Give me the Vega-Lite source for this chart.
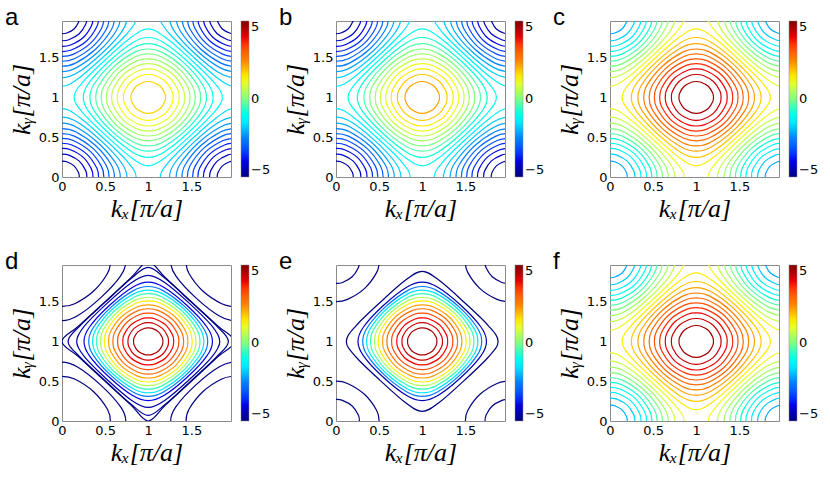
{
"$schema":"https://vega.github.io/schema/vega-lite/v6.json",
"background":"white",
"padding":{"left":4,"top":5,"right":5,"bottom":5},
"datasets":{
"LV":[
{"l":"R1","a":-1.333,"b":-1.071,"c":1.429,"f":1.429},
{"l":"R2","a":-1.0,"b":-0.714,"c":1.786,"f":1.786},
{"l":"R3","a":-0.667,"b":-0.357,"c":2.143,"f":2.143},
{"l":"R4","a":-0.333,"b":0.0,"c":2.5,"f":2.5},
{"l":"R5","a":0.0,"b":0.357,"c":2.857,"f":2.857},
{"l":"R6","a":0.333,"b":0.714,"c":3.214,"f":3.214},
{"l":"R7","a":0.667,"b":1.071,"c":3.571,"f":3.571},
{"l":"R8","a":1.0,"b":1.429,"c":3.929,"f":3.929},
{"l":"R9","a":1.333,"b":1.786,"c":4.286,"f":4.286},
{"l":"R10","a":1.667,"b":2.143,"c":4.643,"f":4.643},
{"l":"K1","a":-1.667,"b":-1.429,"c":1.071,"f":1.071},
{"l":"K2","a":-2.0,"b":-1.786,"c":0.714,"f":0.714},
{"l":"K3","a":-2.333,"b":-2.143,"c":0.357,"f":0.357},
{"l":"K4","a":-2.667,"b":-2.5,"c":0.0,"f":0.0},
{"l":"K5","a":-3.0,"b":-2.857,"c":-0.357,"f":-0.357},
{"l":"K6","a":-3.333,"b":-3.214,"c":-0.714,"f":-0.714},
{"l":"K7","a":-3.667,"b":-3.571,"c":-1.071,"f":-1.071},
{"l":"K8","a":-4.0,"b":-3.929,"c":-1.429,"f":-1.429},
{"l":"K9","a":-4.333,"b":-4.286,"c":-1.786,"f":-1.786},
{"l":"K10","a":-4.667,"b":-4.643,"c":-2.143,"f":-2.143},
{"l":"M1","d":4.6,"e":4.6},
{"l":"M2","d":4.2,"e":4.2},
{"l":"M3","d":3.8,"e":3.8},
{"l":"M4","d":3.3,"e":3.3},
{"l":"M5","d":2.8,"e":2.8},
{"l":"M6","d":2.2,"e":2.2},
{"l":"M7","d":1.4,"e":1.4},
{"l":"M8","d":0.5,"e":0.5},
{"l":"M9","d":-0.5,"e":-0.5},
{"l":"M10","d":-1.5,"e":-1.5},
{"l":"M11","d":-2.6,"e":-2.6},
{"l":"M12","d":-4.0,"e":-4.5},
{"l":"M13","d":-4.6},
{"l":"M14","e":-5},
{"l":"M15","d":-4.8},
{"l":"M16","d":-5},
{"l":"N1","d":-5},
{"l":"N2","d":-5},
{"l":"N3","e":-5},
{"l":"N4","e":-5}
],
"RA":[
{"l":"R1","o":0,"x":1.86,"y":1},{"l":"R1","o":1,"x":1.758,"y":1.194},{"l":"R1","o":2,"x":1.485,"y":1.485},{"l":"R1","o":3,"x":1.194,"y":1.758},{"l":"R1","o":4,"x":1,"y":1.86},{"l":"R1","o":5,"x":0.806,"y":1.758},{"l":"R1","o":6,"x":0.515,"y":1.485},{"l":"R1","o":7,"x":0.242,"y":1.194},{"l":"R1","o":8,"x":0.14,"y":1},{"l":"R1","o":9,"x":0.242,"y":0.806},{"l":"R1","o":10,"x":0.515,"y":0.515},{"l":"R1","o":11,"x":0.806,"y":0.242},{"l":"R1","o":12,"x":1,"y":0.14},{"l":"R1","o":13,"x":1.194,"y":0.242},{"l":"R1","o":14,"x":1.485,"y":0.515},{"l":"R1","o":15,"x":1.758,"y":0.806},
{"l":"R2","o":0,"x":1.753,"y":1},{"l":"R2","o":1,"x":1.688,"y":1.182},{"l":"R2","o":2,"x":1.454,"y":1.454},{"l":"R2","o":3,"x":1.182,"y":1.688},{"l":"R2","o":4,"x":1,"y":1.753},{"l":"R2","o":5,"x":0.818,"y":1.688},{"l":"R2","o":6,"x":0.546,"y":1.454},{"l":"R2","o":7,"x":0.312,"y":1.182},{"l":"R2","o":8,"x":0.247,"y":1},{"l":"R2","o":9,"x":0.312,"y":0.818},{"l":"R2","o":10,"x":0.546,"y":0.546},{"l":"R2","o":11,"x":0.818,"y":0.312},{"l":"R2","o":12,"x":1,"y":0.247},{"l":"R2","o":13,"x":1.182,"y":0.312},{"l":"R2","o":14,"x":1.454,"y":0.546},{"l":"R2","o":15,"x":1.688,"y":0.818},
{"l":"R3","o":0,"x":1.676,"y":1},{"l":"R3","o":1,"x":1.626,"y":1.169},{"l":"R3","o":2,"x":1.424,"y":1.424},{"l":"R3","o":3,"x":1.169,"y":1.626},{"l":"R3","o":4,"x":1,"y":1.676},{"l":"R3","o":5,"x":0.831,"y":1.626},{"l":"R3","o":6,"x":0.576,"y":1.424},{"l":"R3","o":7,"x":0.374,"y":1.169},{"l":"R3","o":8,"x":0.324,"y":1},{"l":"R3","o":9,"x":0.374,"y":0.831},{"l":"R3","o":10,"x":0.576,"y":0.576},{"l":"R3","o":11,"x":0.831,"y":0.374},{"l":"R3","o":12,"x":1,"y":0.324},{"l":"R3","o":13,"x":1.169,"y":0.374},{"l":"R3","o":14,"x":1.424,"y":0.576},{"l":"R3","o":15,"x":1.626,"y":0.831},
{"l":"R4","o":0,"x":1.608,"y":1},{"l":"R4","o":1,"x":1.569,"y":1.157},{"l":"R4","o":2,"x":1.392,"y":1.392},{"l":"R4","o":3,"x":1.157,"y":1.569},{"l":"R4","o":4,"x":1,"y":1.608},{"l":"R4","o":5,"x":0.843,"y":1.569},{"l":"R4","o":6,"x":0.608,"y":1.392},{"l":"R4","o":7,"x":0.431,"y":1.157},{"l":"R4","o":8,"x":0.392,"y":1},{"l":"R4","o":9,"x":0.431,"y":0.843},{"l":"R4","o":10,"x":0.608,"y":0.608},{"l":"R4","o":11,"x":0.843,"y":0.431},{"l":"R4","o":12,"x":1,"y":0.392},{"l":"R4","o":13,"x":1.157,"y":0.431},{"l":"R4","o":14,"x":1.392,"y":0.608},{"l":"R4","o":15,"x":1.569,"y":0.843},
{"l":"R5","o":0,"x":1.546,"y":1},{"l":"R5","o":1,"x":1.514,"y":1.144},{"l":"R5","o":2,"x":1.359,"y":1.359},{"l":"R5","o":3,"x":1.144,"y":1.514},{"l":"R5","o":4,"x":1,"y":1.546},{"l":"R5","o":5,"x":0.856,"y":1.514},{"l":"R5","o":6,"x":0.641,"y":1.359},{"l":"R5","o":7,"x":0.486,"y":1.144},{"l":"R5","o":8,"x":0.454,"y":1},{"l":"R5","o":9,"x":0.486,"y":0.856},{"l":"R5","o":10,"x":0.641,"y":0.641},{"l":"R5","o":11,"x":0.856,"y":0.486},{"l":"R5","o":12,"x":1,"y":0.454},{"l":"R5","o":13,"x":1.144,"y":0.486},{"l":"R5","o":14,"x":1.359,"y":0.641},{"l":"R5","o":15,"x":1.514,"y":0.856},
{"l":"R6","o":0,"x":1.485,"y":1},{"l":"R6","o":1,"x":1.459,"y":1.13},{"l":"R6","o":2,"x":1.325,"y":1.325},{"l":"R6","o":3,"x":1.13,"y":1.459},{"l":"R6","o":4,"x":1,"y":1.485},{"l":"R6","o":5,"x":0.87,"y":1.459},{"l":"R6","o":6,"x":0.675,"y":1.325},{"l":"R6","o":7,"x":0.541,"y":1.13},{"l":"R6","o":8,"x":0.515,"y":1},{"l":"R6","o":9,"x":0.541,"y":0.87},{"l":"R6","o":10,"x":0.675,"y":0.675},{"l":"R6","o":11,"x":0.87,"y":0.541},{"l":"R6","o":12,"x":1,"y":0.515},{"l":"R6","o":13,"x":1.13,"y":0.541},{"l":"R6","o":14,"x":1.325,"y":0.675},{"l":"R6","o":15,"x":1.459,"y":0.87},
{"l":"R7","o":0,"x":1.424,"y":1},{"l":"R7","o":1,"x":1.402,"y":1.115},{"l":"R7","o":2,"x":1.288,"y":1.288},{"l":"R7","o":3,"x":1.115,"y":1.402},{"l":"R7","o":4,"x":1,"y":1.424},{"l":"R7","o":5,"x":0.885,"y":1.402},{"l":"R7","o":6,"x":0.712,"y":1.288},{"l":"R7","o":7,"x":0.598,"y":1.115},{"l":"R7","o":8,"x":0.576,"y":1},{"l":"R7","o":9,"x":0.598,"y":0.885},{"l":"R7","o":10,"x":0.712,"y":0.712},{"l":"R7","o":11,"x":0.885,"y":0.598},{"l":"R7","o":12,"x":1,"y":0.576},{"l":"R7","o":13,"x":1.115,"y":0.598},{"l":"R7","o":14,"x":1.288,"y":0.712},{"l":"R7","o":15,"x":1.402,"y":0.885},
{"l":"R8","o":0,"x":1.359,"y":1},{"l":"R8","o":1,"x":1.342,"y":1.099},{"l":"R8","o":2,"x":1.247,"y":1.247},{"l":"R8","o":3,"x":1.099,"y":1.342},{"l":"R8","o":4,"x":1,"y":1.359},{"l":"R8","o":5,"x":0.901,"y":1.342},{"l":"R8","o":6,"x":0.753,"y":1.247},{"l":"R8","o":7,"x":0.658,"y":1.099},{"l":"R8","o":8,"x":0.641,"y":1},{"l":"R8","o":9,"x":0.658,"y":0.901},{"l":"R8","o":10,"x":0.753,"y":0.753},{"l":"R8","o":11,"x":0.901,"y":0.658},{"l":"R8","o":12,"x":1,"y":0.641},{"l":"R8","o":13,"x":1.099,"y":0.658},{"l":"R8","o":14,"x":1.247,"y":0.753},{"l":"R8","o":15,"x":1.342,"y":0.901},
{"l":"R9","o":0,"x":1.288,"y":1},{"l":"R9","o":1,"x":1.275,"y":1.08},{"l":"R9","o":2,"x":1.2,"y":1.2},{"l":"R9","o":3,"x":1.08,"y":1.275},{"l":"R9","o":4,"x":1,"y":1.288},{"l":"R9","o":5,"x":0.92,"y":1.275},{"l":"R9","o":6,"x":0.8,"y":1.2},{"l":"R9","o":7,"x":0.725,"y":1.08},{"l":"R9","o":8,"x":0.712,"y":1},{"l":"R9","o":9,"x":0.725,"y":0.92},{"l":"R9","o":10,"x":0.8,"y":0.8},{"l":"R9","o":11,"x":0.92,"y":0.725},{"l":"R9","o":12,"x":1,"y":0.712},{"l":"R9","o":13,"x":1.08,"y":0.725},{"l":"R9","o":14,"x":1.2,"y":0.8},{"l":"R9","o":15,"x":1.275,"y":0.92},
{"l":"R10","o":0,"x":1.2,"y":1},{"l":"R10","o":1,"x":1.191,"y":1.056},{"l":"R10","o":2,"x":1.14,"y":1.14},{"l":"R10","o":3,"x":1.056,"y":1.191},{"l":"R10","o":4,"x":1,"y":1.2},{"l":"R10","o":5,"x":0.944,"y":1.191},{"l":"R10","o":6,"x":0.86,"y":1.14},{"l":"R10","o":7,"x":0.809,"y":1.056},{"l":"R10","o":8,"x":0.8,"y":1},{"l":"R10","o":9,"x":0.809,"y":0.944},{"l":"R10","o":10,"x":0.86,"y":0.86},{"l":"R10","o":11,"x":0.944,"y":0.809},{"l":"R10","o":12,"x":1,"y":0.8},{"l":"R10","o":13,"x":1.056,"y":0.809},{"l":"R10","o":14,"x":1.14,"y":0.86},{"l":"R10","o":15,"x":1.191,"y":0.944}
],
"KA":[
{"l":"K1","s":"a","o":0,"x":0.758,"y":-0.194},{"l":"K1","s":"a","o":1,"x":0.86,"y":0},{"l":"K1","s":"a","o":2,"x":0.758,"y":0.194},{"l":"K1","s":"a","o":3,"x":0.485,"y":0.485},{"l":"K1","s":"a","o":4,"x":0.194,"y":0.758},{"l":"K1","s":"a","o":5,"x":0,"y":0.86},{"l":"K1","s":"a","o":6,"x":-0.194,"y":0.758},
{"l":"K1","s":"b","o":0,"x":1.242,"y":-0.194},{"l":"K1","s":"b","o":1,"x":1.14,"y":0},{"l":"K1","s":"b","o":2,"x":1.242,"y":0.194},{"l":"K1","s":"b","o":3,"x":1.515,"y":0.485},{"l":"K1","s":"b","o":4,"x":1.806,"y":0.758},{"l":"K1","s":"b","o":5,"x":2,"y":0.86},{"l":"K1","s":"b","o":6,"x":2.194,"y":0.758},
{"l":"K1","s":"c","o":0,"x":0.758,"y":2.194},{"l":"K1","s":"c","o":1,"x":0.86,"y":2},{"l":"K1","s":"c","o":2,"x":0.758,"y":1.806},{"l":"K1","s":"c","o":3,"x":0.485,"y":1.515},{"l":"K1","s":"c","o":4,"x":0.194,"y":1.242},{"l":"K1","s":"c","o":5,"x":0,"y":1.14},{"l":"K1","s":"c","o":6,"x":-0.194,"y":1.242},
{"l":"K1","s":"d","o":0,"x":1.242,"y":2.194},{"l":"K1","s":"d","o":1,"x":1.14,"y":2},{"l":"K1","s":"d","o":2,"x":1.242,"y":1.806},{"l":"K1","s":"d","o":3,"x":1.515,"y":1.515},{"l":"K1","s":"d","o":4,"x":1.806,"y":1.242},{"l":"K1","s":"d","o":5,"x":2,"y":1.14},{"l":"K1","s":"d","o":6,"x":2.194,"y":1.242},
{"l":"K2","s":"a","o":0,"x":0.688,"y":-0.182},{"l":"K2","s":"a","o":1,"x":0.753,"y":0},{"l":"K2","s":"a","o":2,"x":0.688,"y":0.182},{"l":"K2","s":"a","o":3,"x":0.454,"y":0.454},{"l":"K2","s":"a","o":4,"x":0.182,"y":0.688},{"l":"K2","s":"a","o":5,"x":0,"y":0.753},{"l":"K2","s":"a","o":6,"x":-0.182,"y":0.688},
{"l":"K2","s":"b","o":0,"x":1.312,"y":-0.182},{"l":"K2","s":"b","o":1,"x":1.247,"y":0},{"l":"K2","s":"b","o":2,"x":1.312,"y":0.182},{"l":"K2","s":"b","o":3,"x":1.546,"y":0.454},{"l":"K2","s":"b","o":4,"x":1.818,"y":0.688},{"l":"K2","s":"b","o":5,"x":2,"y":0.753},{"l":"K2","s":"b","o":6,"x":2.182,"y":0.688},
{"l":"K2","s":"c","o":0,"x":0.688,"y":2.182},{"l":"K2","s":"c","o":1,"x":0.753,"y":2},{"l":"K2","s":"c","o":2,"x":0.688,"y":1.818},{"l":"K2","s":"c","o":3,"x":0.454,"y":1.546},{"l":"K2","s":"c","o":4,"x":0.182,"y":1.312},{"l":"K2","s":"c","o":5,"x":0,"y":1.247},{"l":"K2","s":"c","o":6,"x":-0.182,"y":1.312},
{"l":"K2","s":"d","o":0,"x":1.312,"y":2.182},{"l":"K2","s":"d","o":1,"x":1.247,"y":2},{"l":"K2","s":"d","o":2,"x":1.312,"y":1.818},{"l":"K2","s":"d","o":3,"x":1.546,"y":1.546},{"l":"K2","s":"d","o":4,"x":1.818,"y":1.312},{"l":"K2","s":"d","o":5,"x":2,"y":1.247},{"l":"K2","s":"d","o":6,"x":2.182,"y":1.312},
{"l":"K3","s":"a","o":0,"x":0.626,"y":-0.169},{"l":"K3","s":"a","o":1,"x":0.676,"y":0},{"l":"K3","s":"a","o":2,"x":0.626,"y":0.169},{"l":"K3","s":"a","o":3,"x":0.424,"y":0.424},{"l":"K3","s":"a","o":4,"x":0.169,"y":0.626},{"l":"K3","s":"a","o":5,"x":0,"y":0.676},{"l":"K3","s":"a","o":6,"x":-0.169,"y":0.626},
{"l":"K3","s":"b","o":0,"x":1.374,"y":-0.169},{"l":"K3","s":"b","o":1,"x":1.324,"y":0},{"l":"K3","s":"b","o":2,"x":1.374,"y":0.169},{"l":"K3","s":"b","o":3,"x":1.576,"y":0.424},{"l":"K3","s":"b","o":4,"x":1.831,"y":0.626},{"l":"K3","s":"b","o":5,"x":2,"y":0.676},{"l":"K3","s":"b","o":6,"x":2.169,"y":0.626},
{"l":"K3","s":"c","o":0,"x":0.626,"y":2.169},{"l":"K3","s":"c","o":1,"x":0.676,"y":2},{"l":"K3","s":"c","o":2,"x":0.626,"y":1.831},{"l":"K3","s":"c","o":3,"x":0.424,"y":1.576},{"l":"K3","s":"c","o":4,"x":0.169,"y":1.374},{"l":"K3","s":"c","o":5,"x":0,"y":1.324},{"l":"K3","s":"c","o":6,"x":-0.169,"y":1.374},
{"l":"K3","s":"d","o":0,"x":1.374,"y":2.169},{"l":"K3","s":"d","o":1,"x":1.324,"y":2},{"l":"K3","s":"d","o":2,"x":1.374,"y":1.831},{"l":"K3","s":"d","o":3,"x":1.576,"y":1.576},{"l":"K3","s":"d","o":4,"x":1.831,"y":1.374},{"l":"K3","s":"d","o":5,"x":2,"y":1.324},{"l":"K3","s":"d","o":6,"x":2.169,"y":1.374},
{"l":"K4","s":"a","o":0,"x":0.569,"y":-0.157},{"l":"K4","s":"a","o":1,"x":0.608,"y":0},{"l":"K4","s":"a","o":2,"x":0.569,"y":0.157},{"l":"K4","s":"a","o":3,"x":0.392,"y":0.392},{"l":"K4","s":"a","o":4,"x":0.157,"y":0.569},{"l":"K4","s":"a","o":5,"x":0,"y":0.608},{"l":"K4","s":"a","o":6,"x":-0.157,"y":0.569},
{"l":"K4","s":"b","o":0,"x":1.431,"y":-0.157},{"l":"K4","s":"b","o":1,"x":1.392,"y":0},{"l":"K4","s":"b","o":2,"x":1.431,"y":0.157},{"l":"K4","s":"b","o":3,"x":1.608,"y":0.392},{"l":"K4","s":"b","o":4,"x":1.843,"y":0.569},{"l":"K4","s":"b","o":5,"x":2,"y":0.608},{"l":"K4","s":"b","o":6,"x":2.157,"y":0.569},
{"l":"K4","s":"c","o":0,"x":0.569,"y":2.157},{"l":"K4","s":"c","o":1,"x":0.608,"y":2},{"l":"K4","s":"c","o":2,"x":0.569,"y":1.843},{"l":"K4","s":"c","o":3,"x":0.392,"y":1.608},{"l":"K4","s":"c","o":4,"x":0.157,"y":1.431},{"l":"K4","s":"c","o":5,"x":0,"y":1.392},{"l":"K4","s":"c","o":6,"x":-0.157,"y":1.431},
{"l":"K4","s":"d","o":0,"x":1.431,"y":2.157},{"l":"K4","s":"d","o":1,"x":1.392,"y":2},{"l":"K4","s":"d","o":2,"x":1.431,"y":1.843},{"l":"K4","s":"d","o":3,"x":1.608,"y":1.608},{"l":"K4","s":"d","o":4,"x":1.843,"y":1.431},{"l":"K4","s":"d","o":5,"x":2,"y":1.392},{"l":"K4","s":"d","o":6,"x":2.157,"y":1.431},
{"l":"K5","s":"a","o":0,"x":0.514,"y":-0.144},{"l":"K5","s":"a","o":1,"x":0.546,"y":0},{"l":"K5","s":"a","o":2,"x":0.514,"y":0.144},{"l":"K5","s":"a","o":3,"x":0.359,"y":0.359},{"l":"K5","s":"a","o":4,"x":0.144,"y":0.514},{"l":"K5","s":"a","o":5,"x":0,"y":0.546},{"l":"K5","s":"a","o":6,"x":-0.144,"y":0.514},
{"l":"K5","s":"b","o":0,"x":1.486,"y":-0.144},{"l":"K5","s":"b","o":1,"x":1.454,"y":0},{"l":"K5","s":"b","o":2,"x":1.486,"y":0.144},{"l":"K5","s":"b","o":3,"x":1.641,"y":0.359},{"l":"K5","s":"b","o":4,"x":1.856,"y":0.514},{"l":"K5","s":"b","o":5,"x":2,"y":0.546},{"l":"K5","s":"b","o":6,"x":2.144,"y":0.514},
{"l":"K5","s":"c","o":0,"x":0.514,"y":2.144},{"l":"K5","s":"c","o":1,"x":0.546,"y":2},{"l":"K5","s":"c","o":2,"x":0.514,"y":1.856},{"l":"K5","s":"c","o":3,"x":0.359,"y":1.641},{"l":"K5","s":"c","o":4,"x":0.144,"y":1.486},{"l":"K5","s":"c","o":5,"x":0,"y":1.454},{"l":"K5","s":"c","o":6,"x":-0.144,"y":1.486},
{"l":"K5","s":"d","o":0,"x":1.486,"y":2.144},{"l":"K5","s":"d","o":1,"x":1.454,"y":2},{"l":"K5","s":"d","o":2,"x":1.486,"y":1.856},{"l":"K5","s":"d","o":3,"x":1.641,"y":1.641},{"l":"K5","s":"d","o":4,"x":1.856,"y":1.486},{"l":"K5","s":"d","o":5,"x":2,"y":1.454},{"l":"K5","s":"d","o":6,"x":2.144,"y":1.486},
{"l":"K6","s":"a","o":0,"x":0.459,"y":-0.13},{"l":"K6","s":"a","o":1,"x":0.485,"y":0},{"l":"K6","s":"a","o":2,"x":0.459,"y":0.13},{"l":"K6","s":"a","o":3,"x":0.325,"y":0.325},{"l":"K6","s":"a","o":4,"x":0.13,"y":0.459},{"l":"K6","s":"a","o":5,"x":0,"y":0.485},{"l":"K6","s":"a","o":6,"x":-0.13,"y":0.459},
{"l":"K6","s":"b","o":0,"x":1.541,"y":-0.13},{"l":"K6","s":"b","o":1,"x":1.515,"y":0},{"l":"K6","s":"b","o":2,"x":1.541,"y":0.13},{"l":"K6","s":"b","o":3,"x":1.675,"y":0.325},{"l":"K6","s":"b","o":4,"x":1.87,"y":0.459},{"l":"K6","s":"b","o":5,"x":2,"y":0.485},{"l":"K6","s":"b","o":6,"x":2.13,"y":0.459},
{"l":"K6","s":"c","o":0,"x":0.459,"y":2.13},{"l":"K6","s":"c","o":1,"x":0.485,"y":2},{"l":"K6","s":"c","o":2,"x":0.459,"y":1.87},{"l":"K6","s":"c","o":3,"x":0.325,"y":1.675},{"l":"K6","s":"c","o":4,"x":0.13,"y":1.541},{"l":"K6","s":"c","o":5,"x":0,"y":1.515},{"l":"K6","s":"c","o":6,"x":-0.13,"y":1.541},
{"l":"K6","s":"d","o":0,"x":1.541,"y":2.13},{"l":"K6","s":"d","o":1,"x":1.515,"y":2},{"l":"K6","s":"d","o":2,"x":1.541,"y":1.87},{"l":"K6","s":"d","o":3,"x":1.675,"y":1.675},{"l":"K6","s":"d","o":4,"x":1.87,"y":1.541},{"l":"K6","s":"d","o":5,"x":2,"y":1.515},{"l":"K6","s":"d","o":6,"x":2.13,"y":1.541},
{"l":"K7","s":"a","o":0,"x":0.402,"y":-0.115},{"l":"K7","s":"a","o":1,"x":0.424,"y":0},{"l":"K7","s":"a","o":2,"x":0.402,"y":0.115},{"l":"K7","s":"a","o":3,"x":0.288,"y":0.288},{"l":"K7","s":"a","o":4,"x":0.115,"y":0.402},{"l":"K7","s":"a","o":5,"x":0,"y":0.424},{"l":"K7","s":"a","o":6,"x":-0.115,"y":0.402},
{"l":"K7","s":"b","o":0,"x":1.598,"y":-0.115},{"l":"K7","s":"b","o":1,"x":1.576,"y":0},{"l":"K7","s":"b","o":2,"x":1.598,"y":0.115},{"l":"K7","s":"b","o":3,"x":1.712,"y":0.288},{"l":"K7","s":"b","o":4,"x":1.885,"y":0.402},{"l":"K7","s":"b","o":5,"x":2,"y":0.424},{"l":"K7","s":"b","o":6,"x":2.115,"y":0.402},
{"l":"K7","s":"c","o":0,"x":0.402,"y":2.115},{"l":"K7","s":"c","o":1,"x":0.424,"y":2},{"l":"K7","s":"c","o":2,"x":0.402,"y":1.885},{"l":"K7","s":"c","o":3,"x":0.288,"y":1.712},{"l":"K7","s":"c","o":4,"x":0.115,"y":1.598},{"l":"K7","s":"c","o":5,"x":0,"y":1.576},{"l":"K7","s":"c","o":6,"x":-0.115,"y":1.598},
{"l":"K7","s":"d","o":0,"x":1.598,"y":2.115},{"l":"K7","s":"d","o":1,"x":1.576,"y":2},{"l":"K7","s":"d","o":2,"x":1.598,"y":1.885},{"l":"K7","s":"d","o":3,"x":1.712,"y":1.712},{"l":"K7","s":"d","o":4,"x":1.885,"y":1.598},{"l":"K7","s":"d","o":5,"x":2,"y":1.576},{"l":"K7","s":"d","o":6,"x":2.115,"y":1.598},
{"l":"K8","s":"a","o":0,"x":0.342,"y":-0.099},{"l":"K8","s":"a","o":1,"x":0.359,"y":0},{"l":"K8","s":"a","o":2,"x":0.342,"y":0.099},{"l":"K8","s":"a","o":3,"x":0.247,"y":0.247},{"l":"K8","s":"a","o":4,"x":0.099,"y":0.342},{"l":"K8","s":"a","o":5,"x":0,"y":0.359},{"l":"K8","s":"a","o":6,"x":-0.099,"y":0.342},
{"l":"K8","s":"b","o":0,"x":1.658,"y":-0.099},{"l":"K8","s":"b","o":1,"x":1.641,"y":0},{"l":"K8","s":"b","o":2,"x":1.658,"y":0.099},{"l":"K8","s":"b","o":3,"x":1.753,"y":0.247},{"l":"K8","s":"b","o":4,"x":1.901,"y":0.342},{"l":"K8","s":"b","o":5,"x":2,"y":0.359},{"l":"K8","s":"b","o":6,"x":2.099,"y":0.342},
{"l":"K8","s":"c","o":0,"x":0.342,"y":2.099},{"l":"K8","s":"c","o":1,"x":0.359,"y":2},{"l":"K8","s":"c","o":2,"x":0.342,"y":1.901},{"l":"K8","s":"c","o":3,"x":0.247,"y":1.753},{"l":"K8","s":"c","o":4,"x":0.099,"y":1.658},{"l":"K8","s":"c","o":5,"x":0,"y":1.641},{"l":"K8","s":"c","o":6,"x":-0.099,"y":1.658},
{"l":"K8","s":"d","o":0,"x":1.658,"y":2.099},{"l":"K8","s":"d","o":1,"x":1.641,"y":2},{"l":"K8","s":"d","o":2,"x":1.658,"y":1.901},{"l":"K8","s":"d","o":3,"x":1.753,"y":1.753},{"l":"K8","s":"d","o":4,"x":1.901,"y":1.658},{"l":"K8","s":"d","o":5,"x":2,"y":1.641},{"l":"K8","s":"d","o":6,"x":2.099,"y":1.658},
{"l":"K9","s":"a","o":0,"x":0.275,"y":-0.08},{"l":"K9","s":"a","o":1,"x":0.288,"y":0},{"l":"K9","s":"a","o":2,"x":0.275,"y":0.08},{"l":"K9","s":"a","o":3,"x":0.2,"y":0.2},{"l":"K9","s":"a","o":4,"x":0.08,"y":0.275},{"l":"K9","s":"a","o":5,"x":0,"y":0.288},{"l":"K9","s":"a","o":6,"x":-0.08,"y":0.275},
{"l":"K9","s":"b","o":0,"x":1.725,"y":-0.08},{"l":"K9","s":"b","o":1,"x":1.712,"y":0},{"l":"K9","s":"b","o":2,"x":1.725,"y":0.08},{"l":"K9","s":"b","o":3,"x":1.8,"y":0.2},{"l":"K9","s":"b","o":4,"x":1.92,"y":0.275},{"l":"K9","s":"b","o":5,"x":2,"y":0.288},{"l":"K9","s":"b","o":6,"x":2.08,"y":0.275},
{"l":"K9","s":"c","o":0,"x":0.275,"y":2.08},{"l":"K9","s":"c","o":1,"x":0.288,"y":2},{"l":"K9","s":"c","o":2,"x":0.275,"y":1.92},{"l":"K9","s":"c","o":3,"x":0.2,"y":1.8},{"l":"K9","s":"c","o":4,"x":0.08,"y":1.725},{"l":"K9","s":"c","o":5,"x":0,"y":1.712},{"l":"K9","s":"c","o":6,"x":-0.08,"y":1.725},
{"l":"K9","s":"d","o":0,"x":1.725,"y":2.08},{"l":"K9","s":"d","o":1,"x":1.712,"y":2},{"l":"K9","s":"d","o":2,"x":1.725,"y":1.92},{"l":"K9","s":"d","o":3,"x":1.8,"y":1.8},{"l":"K9","s":"d","o":4,"x":1.92,"y":1.725},{"l":"K9","s":"d","o":5,"x":2,"y":1.712},{"l":"K9","s":"d","o":6,"x":2.08,"y":1.725},
{"l":"K10","s":"a","o":0,"x":0.191,"y":-0.056},{"l":"K10","s":"a","o":1,"x":0.2,"y":0},{"l":"K10","s":"a","o":2,"x":0.191,"y":0.056},{"l":"K10","s":"a","o":3,"x":0.14,"y":0.14},{"l":"K10","s":"a","o":4,"x":0.056,"y":0.191},{"l":"K10","s":"a","o":5,"x":0,"y":0.2},{"l":"K10","s":"a","o":6,"x":-0.056,"y":0.191},
{"l":"K10","s":"b","o":0,"x":1.809,"y":-0.056},{"l":"K10","s":"b","o":1,"x":1.8,"y":0},{"l":"K10","s":"b","o":2,"x":1.809,"y":0.056},{"l":"K10","s":"b","o":3,"x":1.86,"y":0.14},{"l":"K10","s":"b","o":4,"x":1.944,"y":0.191},{"l":"K10","s":"b","o":5,"x":2,"y":0.2},{"l":"K10","s":"b","o":6,"x":2.056,"y":0.191},
{"l":"K10","s":"c","o":0,"x":0.191,"y":2.056},{"l":"K10","s":"c","o":1,"x":0.2,"y":2},{"l":"K10","s":"c","o":2,"x":0.191,"y":1.944},{"l":"K10","s":"c","o":3,"x":0.14,"y":1.86},{"l":"K10","s":"c","o":4,"x":0.056,"y":1.809},{"l":"K10","s":"c","o":5,"x":0,"y":1.8},{"l":"K10","s":"c","o":6,"x":-0.056,"y":1.809},
{"l":"K10","s":"d","o":0,"x":1.809,"y":2.056},{"l":"K10","s":"d","o":1,"x":1.8,"y":2},{"l":"K10","s":"d","o":2,"x":1.809,"y":1.944},{"l":"K10","s":"d","o":3,"x":1.86,"y":1.86},{"l":"K10","s":"d","o":4,"x":1.944,"y":1.809},{"l":"K10","s":"d","o":5,"x":2,"y":1.8},{"l":"K10","s":"d","o":6,"x":2.056,"y":1.809}
],
"RM":[
{"l":"M1","o":0,"x":1.17,"y":1},{"l":"M1","o":1,"x":1.163,"y":1.048},{"l":"M1","o":2,"x":1.12,"y":1.12},{"l":"M1","o":3,"x":1.048,"y":1.163},{"l":"M1","o":4,"x":1,"y":1.17},{"l":"M1","o":5,"x":0.952,"y":1.163},{"l":"M1","o":6,"x":0.88,"y":1.12},{"l":"M1","o":7,"x":0.837,"y":1.048},{"l":"M1","o":8,"x":0.83,"y":1},{"l":"M1","o":9,"x":0.837,"y":0.952},{"l":"M1","o":10,"x":0.88,"y":0.88},{"l":"M1","o":11,"x":0.952,"y":0.837},{"l":"M1","o":12,"x":1,"y":0.83},{"l":"M1","o":13,"x":1.048,"y":0.837},{"l":"M1","o":14,"x":1.12,"y":0.88},{"l":"M1","o":15,"x":1.163,"y":0.952},
{"l":"M2","o":0,"x":1.235,"y":1},{"l":"M2","o":1,"x":1.225,"y":1.066},{"l":"M2","o":2,"x":1.164,"y":1.164},{"l":"M2","o":3,"x":1.066,"y":1.225},{"l":"M2","o":4,"x":1,"y":1.235},{"l":"M2","o":5,"x":0.934,"y":1.225},{"l":"M2","o":6,"x":0.836,"y":1.164},{"l":"M2","o":7,"x":0.775,"y":1.066},{"l":"M2","o":8,"x":0.765,"y":1},{"l":"M2","o":9,"x":0.775,"y":0.934},{"l":"M2","o":10,"x":0.836,"y":0.836},{"l":"M2","o":11,"x":0.934,"y":0.775},{"l":"M2","o":12,"x":1,"y":0.765},{"l":"M2","o":13,"x":1.066,"y":0.775},{"l":"M2","o":14,"x":1.164,"y":0.836},{"l":"M2","o":15,"x":1.225,"y":0.934},
{"l":"M3","o":0,"x":1.295,"y":1},{"l":"M3","o":1,"x":1.282,"y":1.082},{"l":"M3","o":2,"x":1.205,"y":1.205},{"l":"M3","o":3,"x":1.082,"y":1.282},{"l":"M3","o":4,"x":1,"y":1.295},{"l":"M3","o":5,"x":0.918,"y":1.282},{"l":"M3","o":6,"x":0.795,"y":1.205},{"l":"M3","o":7,"x":0.718,"y":1.082},{"l":"M3","o":8,"x":0.705,"y":1},{"l":"M3","o":9,"x":0.718,"y":0.918},{"l":"M3","o":10,"x":0.795,"y":0.795},{"l":"M3","o":11,"x":0.918,"y":0.718},{"l":"M3","o":12,"x":1,"y":0.705},{"l":"M3","o":13,"x":1.082,"y":0.718},{"l":"M3","o":14,"x":1.205,"y":0.795},{"l":"M3","o":15,"x":1.282,"y":0.918},
{"l":"M4","o":0,"x":1.355,"y":1},{"l":"M4","o":1,"x":1.338,"y":1.098},{"l":"M4","o":2,"x":1.244,"y":1.244},{"l":"M4","o":3,"x":1.098,"y":1.338},{"l":"M4","o":4,"x":1,"y":1.355},{"l":"M4","o":5,"x":0.902,"y":1.338},{"l":"M4","o":6,"x":0.756,"y":1.244},{"l":"M4","o":7,"x":0.662,"y":1.098},{"l":"M4","o":8,"x":0.645,"y":1},{"l":"M4","o":9,"x":0.662,"y":0.902},{"l":"M4","o":10,"x":0.756,"y":0.756},{"l":"M4","o":11,"x":0.902,"y":0.662},{"l":"M4","o":12,"x":1,"y":0.645},{"l":"M4","o":13,"x":1.098,"y":0.662},{"l":"M4","o":14,"x":1.244,"y":0.756},{"l":"M4","o":15,"x":1.338,"y":0.902},
{"l":"M5","o":0,"x":1.41,"y":1},{"l":"M5","o":1,"x":1.39,"y":1.112},{"l":"M5","o":2,"x":1.279,"y":1.279},{"l":"M5","o":3,"x":1.112,"y":1.39},{"l":"M5","o":4,"x":1,"y":1.41},{"l":"M5","o":5,"x":0.888,"y":1.39},{"l":"M5","o":6,"x":0.721,"y":1.279},{"l":"M5","o":7,"x":0.61,"y":1.112},{"l":"M5","o":8,"x":0.59,"y":1},{"l":"M5","o":9,"x":0.61,"y":0.888},{"l":"M5","o":10,"x":0.721,"y":0.721},{"l":"M5","o":11,"x":0.888,"y":0.61},{"l":"M5","o":12,"x":1,"y":0.59},{"l":"M5","o":13,"x":1.112,"y":0.61},{"l":"M5","o":14,"x":1.279,"y":0.721},{"l":"M5","o":15,"x":1.39,"y":0.888},
{"l":"M6","o":0,"x":1.46,"y":1},{"l":"M6","o":1,"x":1.436,"y":1.124},{"l":"M6","o":2,"x":1.31,"y":1.31},{"l":"M6","o":3,"x":1.124,"y":1.436},{"l":"M6","o":4,"x":1,"y":1.46},{"l":"M6","o":5,"x":0.876,"y":1.436},{"l":"M6","o":6,"x":0.69,"y":1.31},{"l":"M6","o":7,"x":0.564,"y":1.124},{"l":"M6","o":8,"x":0.54,"y":1},{"l":"M6","o":9,"x":0.564,"y":0.876},{"l":"M6","o":10,"x":0.69,"y":0.69},{"l":"M6","o":11,"x":0.876,"y":0.564},{"l":"M6","o":12,"x":1,"y":0.54},{"l":"M6","o":13,"x":1.124,"y":0.564},{"l":"M6","o":14,"x":1.31,"y":0.69},{"l":"M6","o":15,"x":1.436,"y":0.876},
{"l":"M7","o":0,"x":1.51,"y":1},{"l":"M7","o":1,"x":1.482,"y":1.136},{"l":"M7","o":2,"x":1.339,"y":1.339},{"l":"M7","o":3,"x":1.136,"y":1.482},{"l":"M7","o":4,"x":1,"y":1.51},{"l":"M7","o":5,"x":0.864,"y":1.482},{"l":"M7","o":6,"x":0.661,"y":1.339},{"l":"M7","o":7,"x":0.518,"y":1.136},{"l":"M7","o":8,"x":0.49,"y":1},{"l":"M7","o":9,"x":0.518,"y":0.864},{"l":"M7","o":10,"x":0.661,"y":0.661},{"l":"M7","o":11,"x":0.864,"y":0.518},{"l":"M7","o":12,"x":1,"y":0.49},{"l":"M7","o":13,"x":1.136,"y":0.518},{"l":"M7","o":14,"x":1.339,"y":0.661},{"l":"M7","o":15,"x":1.482,"y":0.864},
{"l":"M8","o":0,"x":1.555,"y":1},{"l":"M8","o":1,"x":1.522,"y":1.146},{"l":"M8","o":2,"x":1.364,"y":1.364},{"l":"M8","o":3,"x":1.146,"y":1.522},{"l":"M8","o":4,"x":1,"y":1.555},{"l":"M8","o":5,"x":0.854,"y":1.522},{"l":"M8","o":6,"x":0.636,"y":1.364},{"l":"M8","o":7,"x":0.478,"y":1.146},{"l":"M8","o":8,"x":0.445,"y":1},{"l":"M8","o":9,"x":0.478,"y":0.854},{"l":"M8","o":10,"x":0.636,"y":0.636},{"l":"M8","o":11,"x":0.854,"y":0.478},{"l":"M8","o":12,"x":1,"y":0.445},{"l":"M8","o":13,"x":1.146,"y":0.478},{"l":"M8","o":14,"x":1.364,"y":0.636},{"l":"M8","o":15,"x":1.522,"y":0.854},
{"l":"M9","o":0,"x":1.6,"y":1},{"l":"M9","o":1,"x":1.562,"y":1.155},{"l":"M9","o":2,"x":1.388,"y":1.388},{"l":"M9","o":3,"x":1.155,"y":1.562},{"l":"M9","o":4,"x":1,"y":1.6},{"l":"M9","o":5,"x":0.845,"y":1.562},{"l":"M9","o":6,"x":0.612,"y":1.388},{"l":"M9","o":7,"x":0.438,"y":1.155},{"l":"M9","o":8,"x":0.4,"y":1},{"l":"M9","o":9,"x":0.438,"y":0.845},{"l":"M9","o":10,"x":0.612,"y":0.612},{"l":"M9","o":11,"x":0.845,"y":0.438},{"l":"M9","o":12,"x":1,"y":0.4},{"l":"M9","o":13,"x":1.155,"y":0.438},{"l":"M9","o":14,"x":1.388,"y":0.612},{"l":"M9","o":15,"x":1.562,"y":0.845},
{"l":"M10","o":0,"x":1.645,"y":1},{"l":"M10","o":1,"x":1.6,"y":1.164},{"l":"M10","o":2,"x":1.41,"y":1.41},{"l":"M10","o":3,"x":1.164,"y":1.6},{"l":"M10","o":4,"x":1,"y":1.645},{"l":"M10","o":5,"x":0.836,"y":1.6},{"l":"M10","o":6,"x":0.59,"y":1.41},{"l":"M10","o":7,"x":0.4,"y":1.164},{"l":"M10","o":8,"x":0.355,"y":1},{"l":"M10","o":9,"x":0.4,"y":0.836},{"l":"M10","o":10,"x":0.59,"y":0.59},{"l":"M10","o":11,"x":0.836,"y":0.4},{"l":"M10","o":12,"x":1,"y":0.355},{"l":"M10","o":13,"x":1.164,"y":0.4},{"l":"M10","o":14,"x":1.41,"y":0.59},{"l":"M10","o":15,"x":1.6,"y":0.836},
{"l":"M11","o":0,"x":1.69,"y":1},{"l":"M11","o":1,"x":1.638,"y":1.172},{"l":"M11","o":2,"x":1.43,"y":1.43},{"l":"M11","o":3,"x":1.172,"y":1.638},{"l":"M11","o":4,"x":1,"y":1.69},{"l":"M11","o":5,"x":0.828,"y":1.638},{"l":"M11","o":6,"x":0.57,"y":1.43},{"l":"M11","o":7,"x":0.362,"y":1.172},{"l":"M11","o":8,"x":0.31,"y":1},{"l":"M11","o":9,"x":0.362,"y":0.828},{"l":"M11","o":10,"x":0.57,"y":0.57},{"l":"M11","o":11,"x":0.828,"y":0.362},{"l":"M11","o":12,"x":1,"y":0.31},{"l":"M11","o":13,"x":1.172,"y":0.362},{"l":"M11","o":14,"x":1.43,"y":0.57},{"l":"M11","o":15,"x":1.638,"y":0.828},
{"l":"M12","o":0,"x":1.745,"y":1},{"l":"M12","o":1,"x":1.681,"y":1.181},{"l":"M12","o":2,"x":1.451,"y":1.451},{"l":"M12","o":3,"x":1.181,"y":1.681},{"l":"M12","o":4,"x":1,"y":1.745},{"l":"M12","o":5,"x":0.819,"y":1.681},{"l":"M12","o":6,"x":0.549,"y":1.451},{"l":"M12","o":7,"x":0.319,"y":1.181},{"l":"M12","o":8,"x":0.255,"y":1},{"l":"M12","o":9,"x":0.319,"y":0.819},{"l":"M12","o":10,"x":0.549,"y":0.549},{"l":"M12","o":11,"x":0.819,"y":0.319},{"l":"M12","o":12,"x":1,"y":0.255},{"l":"M12","o":13,"x":1.181,"y":0.319},{"l":"M12","o":14,"x":1.451,"y":0.549},{"l":"M12","o":15,"x":1.681,"y":0.819},
{"l":"M13","o":0,"x":1.83,"y":1},{"l":"M13","o":1,"x":1.741,"y":1.191},{"l":"M13","o":2,"x":1.478,"y":1.478},{"l":"M13","o":3,"x":1.191,"y":1.741},{"l":"M13","o":4,"x":1,"y":1.83},{"l":"M13","o":5,"x":0.809,"y":1.741},{"l":"M13","o":6,"x":0.522,"y":1.478},{"l":"M13","o":7,"x":0.259,"y":1.191},{"l":"M13","o":8,"x":0.17,"y":1},{"l":"M13","o":9,"x":0.259,"y":0.809},{"l":"M13","o":10,"x":0.522,"y":0.522},{"l":"M13","o":11,"x":0.809,"y":0.259},{"l":"M13","o":12,"x":1,"y":0.17},{"l":"M13","o":13,"x":1.191,"y":0.259},{"l":"M13","o":14,"x":1.478,"y":0.522},{"l":"M13","o":15,"x":1.741,"y":0.809},
{"l":"M14","o":0,"x":1.88,"y":1},{"l":"M14","o":1,"x":1.768,"y":1.196},{"l":"M14","o":2,"x":1.489,"y":1.489},{"l":"M14","o":3,"x":1.196,"y":1.768},{"l":"M14","o":4,"x":1,"y":1.88},{"l":"M14","o":5,"x":0.804,"y":1.768},{"l":"M14","o":6,"x":0.511,"y":1.489},{"l":"M14","o":7,"x":0.232,"y":1.196},{"l":"M14","o":8,"x":0.12,"y":1},{"l":"M14","o":9,"x":0.232,"y":0.804},{"l":"M14","o":10,"x":0.511,"y":0.511},{"l":"M14","o":11,"x":0.804,"y":0.232},{"l":"M14","o":12,"x":1,"y":0.12},{"l":"M14","o":13,"x":1.196,"y":0.232},{"l":"M14","o":14,"x":1.489,"y":0.511},{"l":"M14","o":15,"x":1.768,"y":0.804},
{"l":"M15","o":0,"x":1.93,"y":1},{"l":"M15","o":1,"x":1.789,"y":1.199},{"l":"M15","o":2,"x":1.496,"y":1.496},{"l":"M15","o":3,"x":1.199,"y":1.789},{"l":"M15","o":4,"x":1,"y":1.93},{"l":"M15","o":5,"x":0.801,"y":1.789},{"l":"M15","o":6,"x":0.504,"y":1.496},{"l":"M15","o":7,"x":0.211,"y":1.199},{"l":"M15","o":8,"x":0.07,"y":1},{"l":"M15","o":9,"x":0.211,"y":0.801},{"l":"M15","o":10,"x":0.504,"y":0.504},{"l":"M15","o":11,"x":0.801,"y":0.211},{"l":"M15","o":12,"x":1,"y":0.07},{"l":"M15","o":13,"x":1.199,"y":0.211},{"l":"M15","o":14,"x":1.496,"y":0.504},{"l":"M15","o":15,"x":1.789,"y":0.801},
{"l":"M16","o":0,"x":2,"y":1},{"l":"M16","o":1,"x":1.8,"y":1.2},{"l":"M16","o":2,"x":1.5,"y":1.5},{"l":"M16","o":3,"x":1.2,"y":1.8},{"l":"M16","o":4,"x":1,"y":2},{"l":"M16","o":5,"x":0.8,"y":1.8},{"l":"M16","o":6,"x":0.5,"y":1.5},{"l":"M16","o":7,"x":0.2,"y":1.2},{"l":"M16","o":8,"x":0,"y":1},{"l":"M16","o":9,"x":0.2,"y":0.8},{"l":"M16","o":10,"x":0.5,"y":0.5},{"l":"M16","o":11,"x":0.8,"y":0.2},{"l":"M16","o":12,"x":1,"y":0},{"l":"M16","o":13,"x":1.2,"y":0.2},{"l":"M16","o":14,"x":1.5,"y":0.5},{"l":"M16","o":15,"x":1.8,"y":0.8}
],
"KN":[
{"l":"N1","s":"a","o":0,"x":0.678,"y":-0.18},{"l":"N1","s":"a","o":1,"x":0.74,"y":0},{"l":"N1","s":"a","o":2,"x":0.678,"y":0.18},{"l":"N1","s":"a","o":3,"x":0.45,"y":0.45},{"l":"N1","s":"a","o":4,"x":0.18,"y":0.678},{"l":"N1","s":"a","o":5,"x":0,"y":0.74},{"l":"N1","s":"a","o":6,"x":-0.18,"y":0.678},
{"l":"N1","s":"b","o":0,"x":1.322,"y":-0.18},{"l":"N1","s":"b","o":1,"x":1.26,"y":0},{"l":"N1","s":"b","o":2,"x":1.322,"y":0.18},{"l":"N1","s":"b","o":3,"x":1.55,"y":0.45},{"l":"N1","s":"b","o":4,"x":1.82,"y":0.678},{"l":"N1","s":"b","o":5,"x":2,"y":0.74},{"l":"N1","s":"b","o":6,"x":2.18,"y":0.678},
{"l":"N1","s":"c","o":0,"x":0.678,"y":2.18},{"l":"N1","s":"c","o":1,"x":0.74,"y":2},{"l":"N1","s":"c","o":2,"x":0.678,"y":1.82},{"l":"N1","s":"c","o":3,"x":0.45,"y":1.55},{"l":"N1","s":"c","o":4,"x":0.18,"y":1.322},{"l":"N1","s":"c","o":5,"x":0,"y":1.26},{"l":"N1","s":"c","o":6,"x":-0.18,"y":1.322},
{"l":"N1","s":"d","o":0,"x":1.322,"y":2.18},{"l":"N1","s":"d","o":1,"x":1.26,"y":2},{"l":"N1","s":"d","o":2,"x":1.322,"y":1.82},{"l":"N1","s":"d","o":3,"x":1.55,"y":1.55},{"l":"N1","s":"d","o":4,"x":1.82,"y":1.322},{"l":"N1","s":"d","o":5,"x":2,"y":1.26},{"l":"N1","s":"d","o":6,"x":2.18,"y":1.322},
{"l":"N2","s":"a","o":0,"x":0.527,"y":-0.147},{"l":"N2","s":"a","o":1,"x":0.561,"y":0},{"l":"N2","s":"a","o":2,"x":0.527,"y":0.147},{"l":"N2","s":"a","o":3,"x":0.367,"y":0.367},{"l":"N2","s":"a","o":4,"x":0.147,"y":0.527},{"l":"N2","s":"a","o":5,"x":0,"y":0.561},{"l":"N2","s":"a","o":6,"x":-0.147,"y":0.527},
{"l":"N2","s":"b","o":0,"x":1.473,"y":-0.147},{"l":"N2","s":"b","o":1,"x":1.439,"y":0},{"l":"N2","s":"b","o":2,"x":1.473,"y":0.147},{"l":"N2","s":"b","o":3,"x":1.633,"y":0.367},{"l":"N2","s":"b","o":4,"x":1.853,"y":0.527},{"l":"N2","s":"b","o":5,"x":2,"y":0.561},{"l":"N2","s":"b","o":6,"x":2.147,"y":0.527},
{"l":"N2","s":"c","o":0,"x":0.527,"y":2.147},{"l":"N2","s":"c","o":1,"x":0.561,"y":2},{"l":"N2","s":"c","o":2,"x":0.527,"y":1.853},{"l":"N2","s":"c","o":3,"x":0.367,"y":1.633},{"l":"N2","s":"c","o":4,"x":0.147,"y":1.473},{"l":"N2","s":"c","o":5,"x":0,"y":1.439},{"l":"N2","s":"c","o":6,"x":-0.147,"y":1.473},
{"l":"N2","s":"d","o":0,"x":1.473,"y":2.147},{"l":"N2","s":"d","o":1,"x":1.439,"y":2},{"l":"N2","s":"d","o":2,"x":1.473,"y":1.853},{"l":"N2","s":"d","o":3,"x":1.633,"y":1.633},{"l":"N2","s":"d","o":4,"x":1.853,"y":1.473},{"l":"N2","s":"d","o":5,"x":2,"y":1.439},{"l":"N2","s":"d","o":6,"x":2.147,"y":1.473},
{"l":"N3","s":"a","o":0,"x":0.472,"y":-0.133},{"l":"N3","s":"a","o":1,"x":0.5,"y":0},{"l":"N3","s":"a","o":2,"x":0.472,"y":0.133},{"l":"N3","s":"a","o":3,"x":0.333,"y":0.333},{"l":"N3","s":"a","o":4,"x":0.133,"y":0.472},{"l":"N3","s":"a","o":5,"x":0,"y":0.5},{"l":"N3","s":"a","o":6,"x":-0.133,"y":0.472},
{"l":"N3","s":"b","o":0,"x":1.528,"y":-0.133},{"l":"N3","s":"b","o":1,"x":1.5,"y":0},{"l":"N3","s":"b","o":2,"x":1.528,"y":0.133},{"l":"N3","s":"b","o":3,"x":1.667,"y":0.333},{"l":"N3","s":"b","o":4,"x":1.867,"y":0.472},{"l":"N3","s":"b","o":5,"x":2,"y":0.5},{"l":"N3","s":"b","o":6,"x":2.133,"y":0.472},
{"l":"N3","s":"c","o":0,"x":0.472,"y":2.133},{"l":"N3","s":"c","o":1,"x":0.5,"y":2},{"l":"N3","s":"c","o":2,"x":0.472,"y":1.867},{"l":"N3","s":"c","o":3,"x":0.333,"y":1.667},{"l":"N3","s":"c","o":4,"x":0.133,"y":1.528},{"l":"N3","s":"c","o":5,"x":0,"y":1.5},{"l":"N3","s":"c","o":6,"x":-0.133,"y":1.528},
{"l":"N3","s":"d","o":0,"x":1.528,"y":2.133},{"l":"N3","s":"d","o":1,"x":1.5,"y":2},{"l":"N3","s":"d","o":2,"x":1.528,"y":1.867},{"l":"N3","s":"d","o":3,"x":1.667,"y":1.667},{"l":"N3","s":"d","o":4,"x":1.867,"y":1.528},{"l":"N3","s":"d","o":5,"x":2,"y":1.5},{"l":"N3","s":"d","o":6,"x":2.133,"y":1.528},
{"l":"N4","s":"a","o":0,"x":0.259,"y":-0.075},{"l":"N4","s":"a","o":1,"x":0.271,"y":0},{"l":"N4","s":"a","o":2,"x":0.259,"y":0.075},{"l":"N4","s":"a","o":3,"x":0.188,"y":0.188},{"l":"N4","s":"a","o":4,"x":0.075,"y":0.259},{"l":"N4","s":"a","o":5,"x":0,"y":0.271},{"l":"N4","s":"a","o":6,"x":-0.075,"y":0.259},
{"l":"N4","s":"b","o":0,"x":1.741,"y":-0.075},{"l":"N4","s":"b","o":1,"x":1.729,"y":0},{"l":"N4","s":"b","o":2,"x":1.741,"y":0.075},{"l":"N4","s":"b","o":3,"x":1.812,"y":0.188},{"l":"N4","s":"b","o":4,"x":1.925,"y":0.259},{"l":"N4","s":"b","o":5,"x":2,"y":0.271},{"l":"N4","s":"b","o":6,"x":2.075,"y":0.259},
{"l":"N4","s":"c","o":0,"x":0.259,"y":2.075},{"l":"N4","s":"c","o":1,"x":0.271,"y":2},{"l":"N4","s":"c","o":2,"x":0.259,"y":1.925},{"l":"N4","s":"c","o":3,"x":0.188,"y":1.812},{"l":"N4","s":"c","o":4,"x":0.075,"y":1.741},{"l":"N4","s":"c","o":5,"x":0,"y":1.729},{"l":"N4","s":"c","o":6,"x":-0.075,"y":1.741},
{"l":"N4","s":"d","o":0,"x":1.741,"y":2.075},{"l":"N4","s":"d","o":1,"x":1.729,"y":2},{"l":"N4","s":"d","o":2,"x":1.741,"y":1.925},{"l":"N4","s":"d","o":3,"x":1.812,"y":1.812},{"l":"N4","s":"d","o":4,"x":1.925,"y":1.741},{"l":"N4","s":"d","o":5,"x":2,"y":1.729},{"l":"N4","s":"d","o":6,"x":2.075,"y":1.741}
]
},
"vconcat":[
{"hconcat":[
{"title":{"text":"a"},"width":169,"height":156,
"encoding":{"x":{"field":"x","type":"quantitative","scale":{"domain":[0,1.96],"nice":false,"zero":false},"axis":{"title":"kₓ[π/a]","values":[0,0.5,1,1.5],"format":"~g"}},"y":{"field":"y","type":"quantitative","scale":{"domain":[0,1.96],"nice":false,"zero":false},"axis":{"title":"kᵧ[π/a]","values":[0,0.5,1,1.5],"format":"~g"}},"color":{"field":"a","type":"quantitative","scale":{"domain":[-5,-3.75,-2.5,-1.25,0,1.25,2.5,3.75,5],"range":["#000080","#0000ff","#0080ff","#00ffff","#80ff80","#ffff00","#ff8000","#ff0000","#800000"],"clamp":true},"legend":{"title":null,"values":[-5,0,5]}},"detail":[{"field":"l"},{"field":"s"}],"order":{"field":"o","type":"quantitative"}},
"layer":[{"data":{"name":"RA"},"transform":[{"lookup":"l","from":{"data":{"name":"LV"},"key":"l","fields":["a"]}},{"filter":{"field":"a","valid":true}}],"mark":{"type":"line","interpolate":"cardinal-closed","clip":true}},{"data":{"name":"KA"},"transform":[{"lookup":"l","from":{"data":{"name":"LV"},"key":"l","fields":["a"]}},{"filter":{"field":"a","valid":true}}],"mark":{"type":"line","interpolate":"cardinal","clip":true}}]},
{"title":{"text":"b"},"width":169,"height":156,
"encoding":{"x":{"field":"x","type":"quantitative","scale":{"domain":[0,1.96],"nice":false,"zero":false},"axis":{"title":"kₓ[π/a]","values":[0,0.5,1,1.5],"format":"~g"}},"y":{"field":"y","type":"quantitative","scale":{"domain":[0,1.96],"nice":false,"zero":false},"axis":{"title":"kᵧ[π/a]","values":[0,0.5,1,1.5],"format":"~g"}},"color":{"field":"b","type":"quantitative","scale":{"domain":[-5,-3.75,-2.5,-1.25,0,1.25,2.5,3.75,5],"range":["#000080","#0000ff","#0080ff","#00ffff","#80ff80","#ffff00","#ff8000","#ff0000","#800000"],"clamp":true},"legend":{"title":null,"values":[-5,0,5]}},"detail":[{"field":"l"},{"field":"s"}],"order":{"field":"o","type":"quantitative"}},
"layer":[{"data":{"name":"RA"},"transform":[{"lookup":"l","from":{"data":{"name":"LV"},"key":"l","fields":["b"]}},{"filter":{"field":"b","valid":true}}],"mark":{"type":"line","interpolate":"cardinal-closed","clip":true}},{"data":{"name":"KA"},"transform":[{"lookup":"l","from":{"data":{"name":"LV"},"key":"l","fields":["b"]}},{"filter":{"field":"b","valid":true}}],"mark":{"type":"line","interpolate":"cardinal","clip":true}}]},
{"title":{"text":"c"},"width":169,"height":156,
"encoding":{"x":{"field":"x","type":"quantitative","scale":{"domain":[0,1.96],"nice":false,"zero":false},"axis":{"title":"kₓ[π/a]","values":[0,0.5,1,1.5],"format":"~g"}},"y":{"field":"y","type":"quantitative","scale":{"domain":[0,1.96],"nice":false,"zero":false},"axis":{"title":"kᵧ[π/a]","values":[0,0.5,1,1.5],"format":"~g"}},"color":{"field":"c","type":"quantitative","scale":{"domain":[-5,-3.75,-2.5,-1.25,0,1.25,2.5,3.75,5],"range":["#000080","#0000ff","#0080ff","#00ffff","#80ff80","#ffff00","#ff8000","#ff0000","#800000"],"clamp":true},"legend":{"title":null,"values":[-5,0,5]}},"detail":[{"field":"l"},{"field":"s"}],"order":{"field":"o","type":"quantitative"}},
"layer":[{"data":{"name":"RA"},"transform":[{"lookup":"l","from":{"data":{"name":"LV"},"key":"l","fields":["c"]}},{"filter":{"field":"c","valid":true}}],"mark":{"type":"line","interpolate":"cardinal-closed","clip":true}},{"data":{"name":"KA"},"transform":[{"lookup":"l","from":{"data":{"name":"LV"},"key":"l","fields":["c"]}},{"filter":{"field":"c","valid":true}}],"mark":{"type":"line","interpolate":"cardinal","clip":true}}]}
],"spacing":6,"resolve":{"scale":{"color":"independent"},"legend":{"color":"independent"}}},
{"hconcat":[
{"title":{"text":"d"},"width":169,"height":156,
"encoding":{"x":{"field":"x","type":"quantitative","scale":{"domain":[0,1.96],"nice":false,"zero":false},"axis":{"title":"kₓ[π/a]","values":[0,0.5,1,1.5],"format":"~g"}},"y":{"field":"y","type":"quantitative","scale":{"domain":[0,1.96],"nice":false,"zero":false},"axis":{"title":"kᵧ[π/a]","values":[0,0.5,1,1.5],"format":"~g"}},"color":{"field":"d","type":"quantitative","scale":{"domain":[-5,-3.75,-2.5,-1.25,0,1.25,2.5,3.75,5],"range":["#000080","#0000ff","#0080ff","#00ffff","#80ff80","#ffff00","#ff8000","#ff0000","#800000"],"clamp":true},"legend":{"title":null,"values":[-5,0,5]}},"detail":[{"field":"l"},{"field":"s"}],"order":{"field":"o","type":"quantitative"}},
"layer":[{"data":{"name":"RM"},"transform":[{"lookup":"l","from":{"data":{"name":"LV"},"key":"l","fields":["d"]}},{"filter":{"field":"d","valid":true}}],"mark":{"type":"line","interpolate":"cardinal-closed","clip":true}},{"data":{"name":"KN"},"transform":[{"lookup":"l","from":{"data":{"name":"LV"},"key":"l","fields":["d"]}},{"filter":{"field":"d","valid":true}}],"mark":{"type":"line","interpolate":"cardinal","clip":true}}]},
{"title":{"text":"e"},"width":169,"height":156,
"encoding":{"x":{"field":"x","type":"quantitative","scale":{"domain":[0,1.96],"nice":false,"zero":false},"axis":{"title":"kₓ[π/a]","values":[0,0.5,1,1.5],"format":"~g"}},"y":{"field":"y","type":"quantitative","scale":{"domain":[0,1.96],"nice":false,"zero":false},"axis":{"title":"kᵧ[π/a]","values":[0,0.5,1,1.5],"format":"~g"}},"color":{"field":"e","type":"quantitative","scale":{"domain":[-5,-3.75,-2.5,-1.25,0,1.25,2.5,3.75,5],"range":["#000080","#0000ff","#0080ff","#00ffff","#80ff80","#ffff00","#ff8000","#ff0000","#800000"],"clamp":true},"legend":{"title":null,"values":[-5,0,5]}},"detail":[{"field":"l"},{"field":"s"}],"order":{"field":"o","type":"quantitative"}},
"layer":[{"data":{"name":"RM"},"transform":[{"lookup":"l","from":{"data":{"name":"LV"},"key":"l","fields":["e"]}},{"filter":{"field":"e","valid":true}}],"mark":{"type":"line","interpolate":"cardinal-closed","clip":true}},{"data":{"name":"KN"},"transform":[{"lookup":"l","from":{"data":{"name":"LV"},"key":"l","fields":["e"]}},{"filter":{"field":"e","valid":true}}],"mark":{"type":"line","interpolate":"cardinal","clip":true}}]},
{"title":{"text":"f"},"width":169,"height":156,
"encoding":{"x":{"field":"x","type":"quantitative","scale":{"domain":[0,1.96],"nice":false,"zero":false},"axis":{"title":"kₓ[π/a]","values":[0,0.5,1,1.5],"format":"~g"}},"y":{"field":"y","type":"quantitative","scale":{"domain":[0,1.96],"nice":false,"zero":false},"axis":{"title":"kᵧ[π/a]","values":[0,0.5,1,1.5],"format":"~g"}},"color":{"field":"f","type":"quantitative","scale":{"domain":[-5,-3.75,-2.5,-1.25,0,1.25,2.5,3.75,5],"range":["#000080","#0000ff","#0080ff","#00ffff","#80ff80","#ffff00","#ff8000","#ff0000","#800000"],"clamp":true},"legend":{"title":null,"values":[-5,0,5]}},"detail":[{"field":"l"},{"field":"s"}],"order":{"field":"o","type":"quantitative"}},
"layer":[{"data":{"name":"RA"},"transform":[{"lookup":"l","from":{"data":{"name":"LV"},"key":"l","fields":["f"]}},{"filter":{"field":"f","valid":true}}],"mark":{"type":"line","interpolate":"cardinal-closed","clip":true}},{"data":{"name":"KA"},"transform":[{"lookup":"l","from":{"data":{"name":"LV"},"key":"l","fields":["f"]}},{"filter":{"field":"f","valid":true}}],"mark":{"type":"line","interpolate":"cardinal","clip":true}}]}
],"spacing":6,"resolve":{"scale":{"color":"independent"},"legend":{"color":"independent"}}}
],
"spacing":27,
"resolve":{"scale":{"color":"independent"},"legend":{"color":"independent"}},
"config":{
"view":{"stroke":"#8c8c8c","strokeWidth":1},
"line":{"strokeWidth":1.2},
"axis":{"grid":false,"domain":false,"ticks":false,"labelFont":"DejaVu Sans","labelFontSize":13,"labelColor":"#000","labelPadding":3,"labelFlush":false,"labelOverlap":false,"titleFont":"Liberation Serif","titleFontStyle":"italic","titleFontWeight":"normal","titleFontSize":26,"titleColor":"#000"},
"axisX":{"titlePadding":2},
"axisY":{"titlePadding":4},
"legend":{"gradientLength":156,"gradientThickness":8,"labelFont":"DejaVu Sans","labelFontSize":13,"labelColor":"#000","labelOffset":3,"offset":10,"padding":0,"gradientStrokeColor":"#888","gradientStrokeWidth":0.5},
"title":{"anchor":"start","frame":"group","font":"Liberation Sans","fontSize":24,"fontWeight":"normal","color":"#000","dx":-57,"offset":-9}
}
}
